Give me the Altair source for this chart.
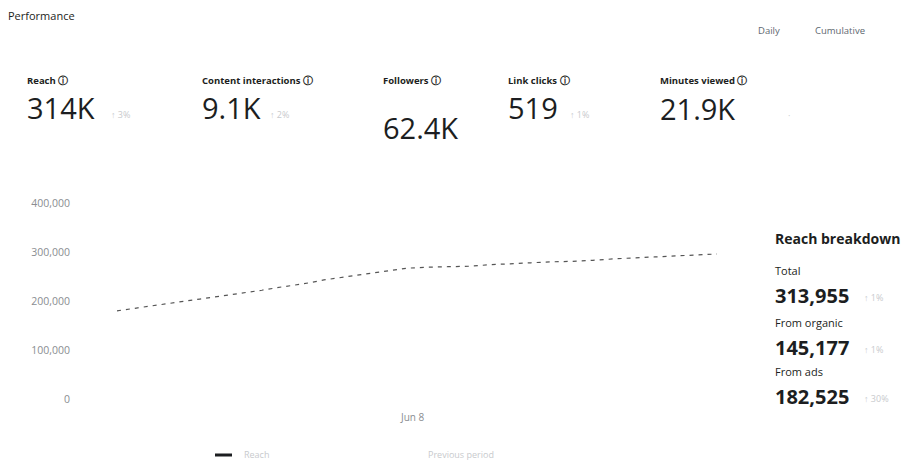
import altair as alt
import pandas as pd

# ---- data ----
dates = pd.date_range("2024-05-25", periods=30, freq="D").strftime("%Y-%m-%d").tolist()
reach = [182000, 188000, 194000, 200000, 206000, 212000, 218000, 224000, 231000, 237000,
         245000, 251000, 257000, 263000, 269000, 271000, 272000, 273000, 276000, 278000,
         280000, 282000, 283000, 285000, 288000, 290000, 292000, 294000, 296000, 298000]
y_ticks = [0, 100000, 200000, 300000, 400000]
y_tick_labels = ["0", "100,000", "200,000", "300,000", "400,000"]
x_tick_dates = ["2024-06-08"]
x_tick_labels = ["Jun 8"]

kpi_names = ["Reach \u24d8", "Content interactions \u24d8", "Followers \u24d8", "Link clicks \u24d8", "Minutes viewed \u24d8"]
kpi_values = ["314K", "9.1K", "62.4K", "519", "21.9K"]
kpi_deltas = ["\u2191 3%", "\u2191 2%", "", "\u2191 1%", "\u00b7"]

breakdown_labels = ["Total", "From organic", "From ads"]
breakdown_values = ["313,955", "145,177", "182,525"]
breakdown_deltas = ["\u2191 1%", "\u2191 1%", "\u2191 30%"]

FONT = "Open Sans"
W, H = 895, 452

line_df = pd.DataFrame({"date": dates, "reach": reach})
xscale = alt.Scale(domain=[dates[0], dates[-1]], range=[109, 709])
yscale = alt.Scale(domain=[0, 400000], range=[392, 196])

one = pd.DataFrame({"a": [0]})


def txt(s, x, y, size=10, weight="normal", color="#1c1e21", align="left"):
    return alt.Chart(one).mark_text(
        text=s, font=FONT, fontSize=size, fontWeight=weight, color=color,
        align=align, baseline="middle"
    ).encode(x=alt.value(x), y=alt.value(y))


line = alt.Chart(line_df).mark_line(color="#555555", strokeWidth=1.2, strokeDash=[4, 5]).encode(
    x=alt.X("date:T", scale=xscale, axis=None),
    y=alt.Y("reach:Q", scale=yscale, axis=None),
)

ytick_df = pd.DataFrame({"v": y_ticks, "label": y_tick_labels})
ylabels = alt.Chart(ytick_df).mark_text(
    font=FONT, fontSize=10.5, color="#8a8d91", align="right", baseline="middle"
).encode(
    y=alt.Y("v:Q", scale=yscale, axis=None),
    x=alt.value(62),
    text="label:N",
)

xtick_df = pd.DataFrame({"date": x_tick_dates, "label": x_tick_labels})
xlabels = alt.Chart(xtick_df).mark_text(
    font=FONT, fontSize=10, color="#8a8d91", align="center", baseline="middle", dx=6
).encode(
    x=alt.X("date:T", scale=xscale, axis=None),
    y=alt.value(410),
    text="label:N",
)

layers = [line, ylabels, xlabels]

# header
layers.append(txt("Performance", 0, 9, size=11))
layers.append(txt("Daily", 750, 23, size=9.5, color="#606770"))
layers.append(txt("Cumulative", 807, 23, size=9.5, color="#606770"))

# KPI row
kpi_x = [19, 194, 375, 500, 652]
kpi_val_y = [102, 102, 122, 102, 103]
kpi_delta_dx = [84, 68, 0, 62, 128]
for i in range(5):
    layers.append(txt(kpi_names[i], kpi_x[i], 73, size=9.5, weight="bold"))
    layers.append(txt(kpi_values[i], kpi_x[i], kpi_val_y[i], size=29))
    if kpi_deltas[i]:
        layers.append(txt(kpi_deltas[i], kpi_x[i] + kpi_delta_dx[i], kpi_val_y[i] + 5, size=9, color="#c8cacd"))

# breakdown panel
layers.append(txt("Reach breakdown", 767, 232, size=14, weight="bold"))
b_y = [264, 316, 365]
for i in range(3):
    layers.append(txt(breakdown_labels[i], 767, b_y[i], size=11, color="#1c1e21"))
    layers.append(txt(breakdown_values[i], 767, b_y[i] + 25, size=20, weight="bold"))
    layers.append(txt(breakdown_deltas[i], 856, b_y[i] + 26, size=9, color="#c8cacd"))

# legend
legend_df = pd.DataFrame({"a": [0]})
legend_mark = alt.Chart(legend_df).mark_rule(color="#1c1e21", strokeWidth=3).encode(
    x=alt.value(207), x2=alt.value(224), y=alt.value(447)
)
layers.append(legend_mark)
layers.append(txt("Reach", 236, 447, size=9, color="#c8cacd"))
layers.append(txt("Previous period", 420, 447, size=9, color="#c8cacd"))

chart = alt.layer(*layers).properties(
    width=W, height=H, autosize="none", padding=0
).configure_view(stroke=None)

chart.save("out.html", embed_options={"renderer": "svg", "actions": False})
